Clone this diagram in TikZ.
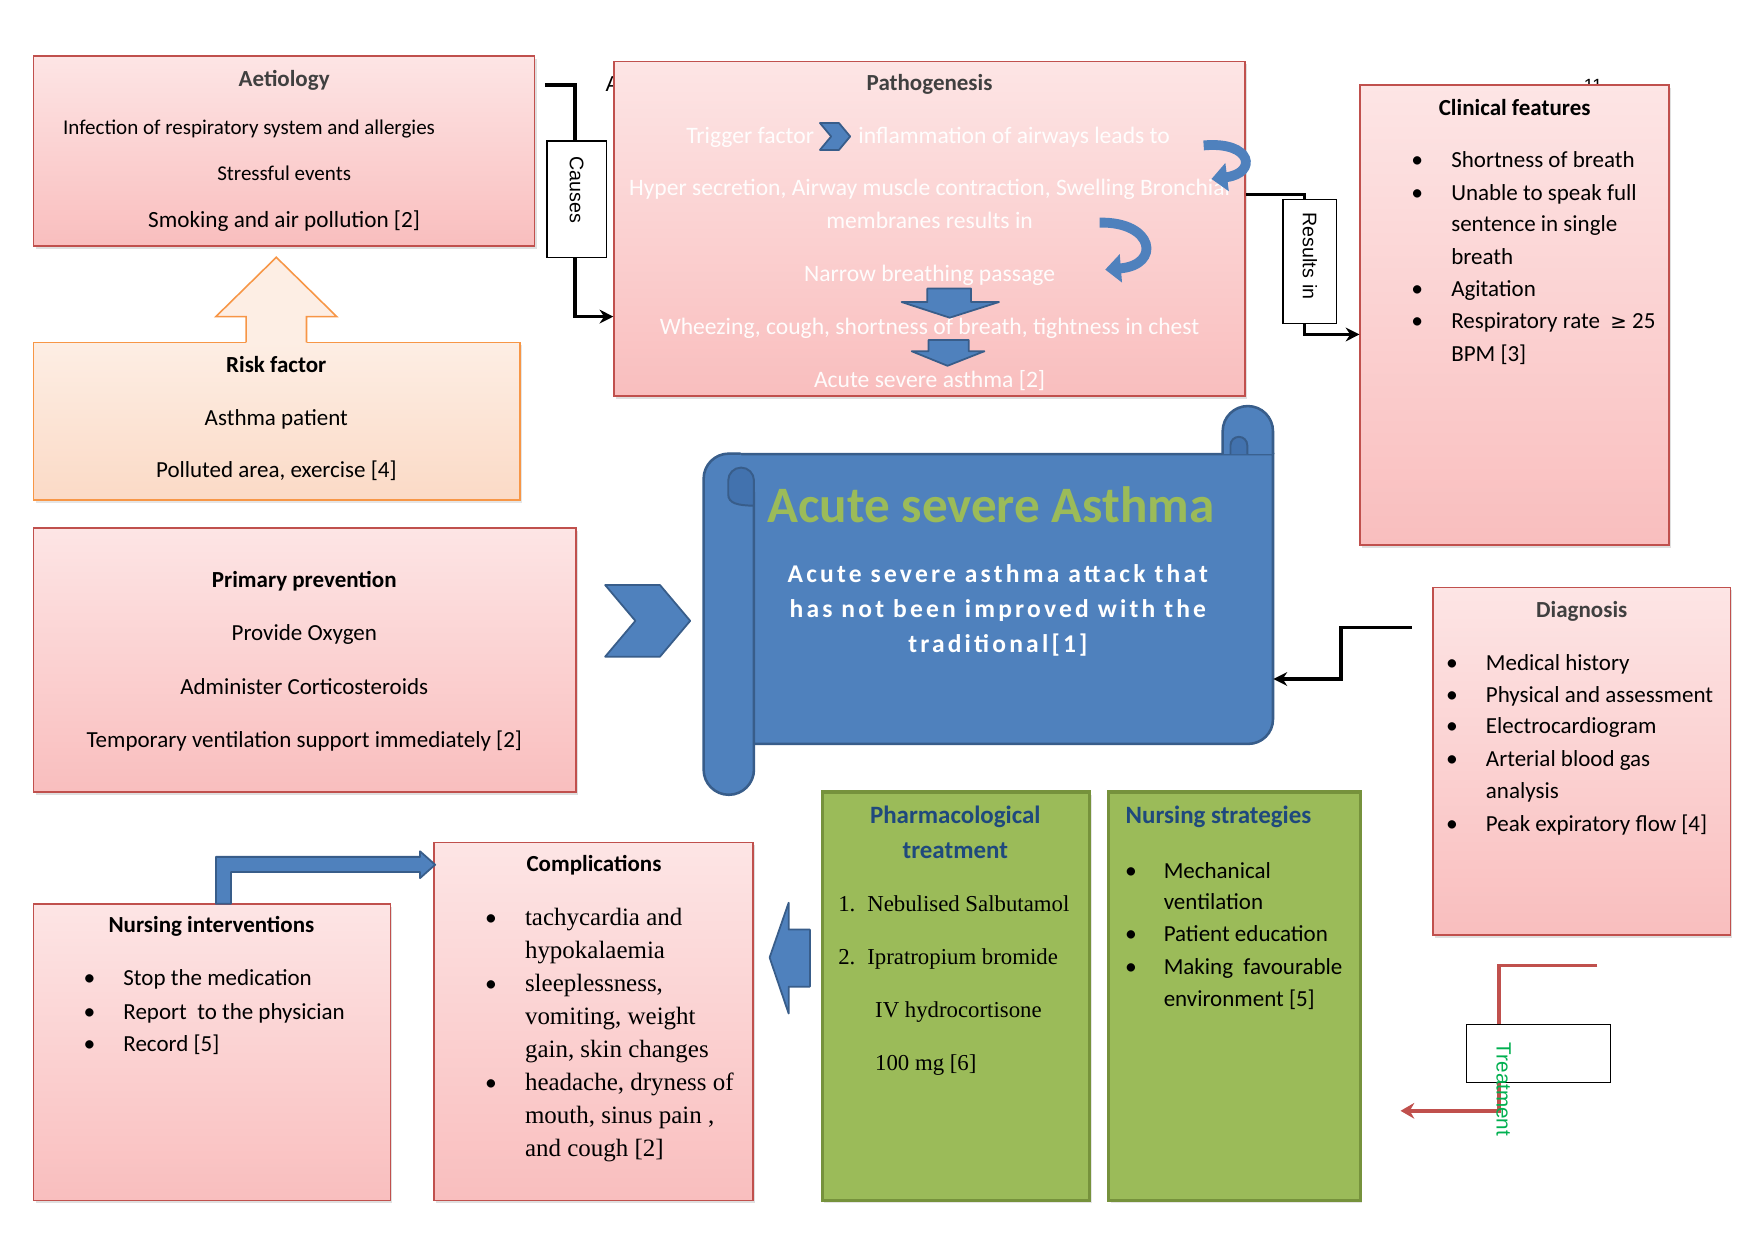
\documentclass[tikz,border=0pt]{standalone}
\usepackage{fontspec}
\setmainfont{Carlito}
\newfontfamily\timesfont{Liberation Serif}
\newfontfamily\arialfont{Liberation Sans}
\newfontfamily\symfont{DejaVu Sans}
\newfontfamily\trackfont[LetterSpace=12.5]{Carlito}
\newcommand{\gesym}{{\symfont\fontsize{10}{10}\selectfont ≥}}
\usetikzlibrary{arrows.meta, positioning, fit, shadows, calc}

\definecolor{boxred}{HTML}{C0504D}
\definecolor{pinktop}{HTML}{FDE5E5}
\definecolor{pinkbot}{HTML}{F9BEBE}
\definecolor{orngline}{HTML}{F79646}
\definecolor{peachtop}{HTML}{FDEEE4}
\definecolor{peachbot}{HTML}{FBDAC6}
\definecolor{accblue}{HTML}{4F81BD}
\definecolor{darkblue}{HTML}{385D8A}
\definecolor{rollblue}{HTML}{4272AE}
\definecolor{accgreen}{HTML}{9BBB59}
\definecolor{darkgreen}{HTML}{76923C}
\definecolor{titleblue}{HTML}{1F497D}
\definecolor{treatgreen}{HTML}{00B050}
\definecolor{greytitle}{HTML}{404040}

\tikzset{
  pinkbox/.style={draw=boxred, line width=0.8pt, top color=pinktop, bottom color=pinkbot,
                  inner sep=0pt, drop shadow={opacity=0.25, shadow xshift=1pt, shadow yshift=-1.5pt}},
  peachbox/.style={draw=orngline, line width=0.8pt, top color=peachtop, bottom color=peachbot,
                   inner sep=0pt, drop shadow={opacity=0.2, shadow xshift=1pt, shadow yshift=-1.5pt}},
  greenbox/.style={draw=darkgreen, line width=1.6pt, fill=accgreen,
                   inner sep=0pt, drop shadow={opacity=0.2, shadow xshift=1pt, shadow yshift=-1.5pt}},
  lblbox/.style={draw=black, fill=white, line width=0.6pt, rotate=-90, align=left, inner ysep=0pt,
                 font=\arialfont\fontsize{10}{12}\selectfont},
  hd/.style={font=\bfseries\fontsize{#1}{#1}\selectfont, anchor=mid, inner sep=0pt, yshift=-1.6pt}, hd/.default=11.7,
  tx/.style={font=\fontsize{#1}{#1}\selectfont, anchor=mid, inner sep=0pt, yshift=-1.6pt}, tx/.default=11.7,
  it/.style={font=\fontsize{#1}{#1}\selectfont, anchor=mid west, inner sep=0pt, yshift=-1.6pt}, it/.default=11.7,
  sit/.style={font=\timesfont\fontsize{#1}{#1}\selectfont, anchor=mid west, inner sep=0pt, yshift=-1.6pt}, sit/.default=11.6,
  bul/.style={font=\fontsize{12}{12}\selectfont, anchor=mid, inner sep=0pt, yshift=-1.6pt},
  ptx/.style={tx=12, text=white, text opacity=0.95},
  stray/.style={font=\arialfont\fontsize{#1}{#1}\selectfont, inner sep=0pt}, stray/.default=11,
  blkline/.style={draw=black, line width=1.8pt},
  blkconn/.style={blkline, -{Stealth[length=7pt, width=7pt]}},
  redconn/.style={draw=boxred, line width=1.8pt, -{Stealth[length=7pt, width=8pt]}},
  blockar/.style={fill=accblue, draw=darkblue, line width=0.9pt, line join=round},
  curvar/.style={draw=accblue, line width=5pt, -{Triangle[length=8pt, width=14pt]}},
  scroll/.style={fill=accblue, draw=darkblue, line width=1.3pt},
  scrolldk/.style={fill=rollblue, draw=darkblue, line width=1pt},
}

\begin{document}
\begin{tikzpicture}[x=0.02cm, y=-0.02cm]
  %% page
  \fill[white] (0,0) rectangle (1568,1109);
  \useasboundingbox (0,0) rectangle (1568,1109);

  %% Aetiology
  \node[pinkbox, fit={(30,50) (478,220)}] (aet) {};
  \node[hd, text=greytitle] (aetT) at (254,70) {Aetiology};
  \node[it=10.7] (aet1) at (56,113) {Infection of respiratory system and allergies};
  \node[tx=10.7] (aet2) at (254,154) {Stressful events};
  \node[tx=11.8] (aet3) at (254,196) {Smoking and air pollution [2]};

  %% Risk factor with up arrow
  \node[peachbox, fit={(30,306) (465,447)}] (risk) {};
  \fill[peachtop] (220,307.5) -- (220,283) -- (193,283) -- (247,230) -- (301,283) -- (274,283) -- (274,307.5) -- cycle;
  \draw[orngline, line width=0.8pt] (220,306) -- (220,283) -- (193,283) -- (247,230) -- (301,283) -- (274,283) -- (274,306);
  \node[hd] (riskT) at (247,326) {Risk factor};
  \node[tx] (risk1) at (247,373) {Asthma patient};
  \node[tx] (risk2) at (247,420) {Polluted area, exercise [4]};

  %% Pathogenesis
  \node[stray, anchor=mid west] (strayA) at (541,78) {A};
  \node[pinkbox, fit={(549,55) (1113,354)}] (path) {};
  \node[hd, text=greytitle] (pathT) at (831,74) {Pathogenesis};
  \node[ptx, anchor=mid east] (pth1a) at (728,121) {Trigger factor};
  \filldraw[blockar] (733,110) -- (750,110) -- (760,122) -- (750,134) -- (733,134) -- (743,122) -- cycle;
  \node[ptx, anchor=mid west] (pth1b) at (767,121) {inflammation of airways leads to};
  \node[ptx] (pth2) at (831,168) {Hyper secretion, Airway muscle contraction, Swelling Bronchial};
  \node[ptx] (pth3) at (831,197) {membranes results in};
  \node[ptx] (pth4) at (831,245) {Narrow breathing passage};
  \node[ptx] (pth5) at (831,292) {Wheezing, cough, shortness of breath, tightness in chest};
  \node[ptx] (pth6) at (831,339) {Acute severe asthma [2]};
  \coordinate (c1s) at (1076,130);
  \coordinate (c1e) at (1083,160);
  \draw[curvar] (c1s) .. controls (1120,126) and (1124,155) .. (c1e);
  \coordinate (c2s) at (983,199);
  \coordinate (c2e) at (988,241);
  \draw[curvar] (c2s) .. controls (1032,198) and (1038,237) .. (c2e);
  \filldraw[blockar] (829,258) -- (868,258) -- (868,270) -- (893,270) -- (849,284) -- (806,270) -- (829,270) -- cycle;
  \filldraw[blockar] (830,304) -- (866,304) -- (866,314) -- (880,314) -- (847,327) -- (815,314) -- (830,314) -- cycle;

  %% Clinical features
  \node[stray=9, anchor=north] (stray11) at (1424,71) {11};
  \node[pinkbox, fit={(1216,76) (1492,487)}] (clin) {};
  \node[hd] (clinT) at (1354,96) {Clinical features};
  \foreach \y/\t [count=\i] in {143/Shortness of breath, 172/Unable to speak full,
      200/sentence in single, 229/breath, 258/Agitation,
      287/{Respiratory rate \ \gesym\ 25}, 316/{BPM [3]}}
    \node[it] (clin\i) at (1297,\y) {\t};
  \foreach \y in {143,172,258,287}
    \node[bul] (clinb\y) at (1267,\y) {•};

  %% Central scroll
  \node[fit={(629,363) (1138,710)}, inner sep=0pt] (asa) {};
  \filldraw[scroll] (652,406) -- (1138,406) -- (1138,643) arc[start angle=0, end angle=90, radius=22] -- (652,665) -- cycle;
  \filldraw[scroll] (1093,406) -- (1093,385.5) arc[start angle=180, end angle=360, radius=22.5] -- (1138,406);
  \filldraw[scrolldk] (1100,406) -- (1100,398) arc[start angle=180, end angle=360, radius=7.5] -- (1115,406);
  \filldraw[scroll] (674,440) -- (674,688) arc[start angle=0, end angle=180, radius=22.5] -- (629,428)
      arc[start angle=180, end angle=270, radius=22.5] -- (662,405.5);
  \filldraw[scrolldk] (674,452) -- (674,429.5) arc[start angle=0, end angle=-180, radius=11.5]
      -- (651,442) .. controls (651,450) and (660,452) .. (674,452);
  \node[font=\bfseries\fontsize{26}{26}\selectfont, text=accgreen, anchor=mid, inner sep=0pt, yshift=-1.6pt] (asaT) at (886,460) {Acute severe Asthma};
  \foreach \y/\t [count=\i] in {514/Acute severe asthma attack that, 545/has not been improved with the, 576/traditional[1]}
    \node[font=\trackfont\bfseries\fontsize{13}{13}\selectfont, text=white, anchor=mid, inner sep=0pt, yshift=-1.6pt] (asa\i) at (892,\y) {\t};

  %% Primary prevention
  \node[pinkbox, fit={(30,472) (515,708)}] (prev) {};
  \node[hd] (prevT) at (272,518) {Primary prevention};
  \node[tx] (prev1) at (272,566) {Provide Oxygen};
  \node[tx] (prev2) at (272,614) {Administer Corticosteroids};
  \node[tx] (prev3) at (272,661) {Temporary ventilation support immediately [2]};
  \filldraw[blockar] (541,523) -- (590,523) -- (617,555) -- (590,587) -- (541,587) -- (568,555) -- cycle;

  %% Diagnosis
  \node[pinkbox, fit={(1281,525) (1547,836)}] (diag) {};
  \node[hd, text=greytitle] (diagT) at (1414,545) {Diagnosis};
  \foreach \y/\t [count=\i] in {592/Medical history, 621/Physical and assessment, 649/Electrocardiogram,
      678/Arterial blood gas, 707/analysis, 736/{Peak expiratory flow [4]}}
    \node[it] (diag\i) at (1328,\y) {\t};
  \foreach \y in {592,621,649,678,736}
    \node[bul] (diagb\y) at (1298,\y) {•};

  %% Pharmacological treatment
  \node[greenbox, fit={(735,708) (974,1073)}] (pharm) {};
  \node[hd=12.7, text=titleblue] (pharmT1) at (854,729) {Pharmacological};
  \node[hd=12.7, text=titleblue] (pharmT2) at (854,760) {treatment};
  \node[sit] (ph1n) at (749,808) {1.};
  \node[sit] (ph1) at (775,808) {Nebulised Salbutamol};
  \node[sit] (ph2n) at (749,855) {2.};
  \node[sit] (ph2) at (775,855) {Ipratropium bromide};
  \node[sit] (ph3) at (782,903) {IV hydrocortisone};
  \node[sit] (ph4) at (782,950) {100 mg [6]};

  %% Nursing strategies
  \node[greenbox, fit={(991,708) (1216,1073)}] (nstr) {};
  \node[hd=12.7, text=titleblue, anchor=mid west] (nstrT) at (1006,729) {Nursing strategies};
  \foreach \y/\t [count=\i] in {778/Mechanical, 806/ventilation, 835/Patient education,
      864/{Making \ favourable}, 893/{environment [5]}}
    \node[it] (nstr\i) at (1040,\y) {\t};
  \foreach \y in {778,835,864}
    \node[bul] (nstrb\y) at (1011,\y) {•};

  %% Complications
  \node[pinkbox, fit={(388,753) (673,1073)}] (comp) {};
  \node[hd] (compT) at (531,772) {Complications};
  \foreach \y/\t [count=\i] in {820/tachycardia and, 850/hypokalaemia, 879/{sleeplessness,},
      909/{vomiting, weight}, 938/{gain, skin changes}, 968/{headache, dryness of},
      997/{mouth, sinus pain ,}, 1027/{and cough [2]}}
    \node[sit=12.7] (comp\i) at (469,\y) {\t};
  \foreach \y in {820,879,968}
    \node[bul] (compb\y) at (439,\y) {•};
  \filldraw[blockar] (688,856) -- (705,807) -- (705,831) -- (724,831) -- (724,882) -- (705,882) -- (705,906) -- cycle;

  %% Nursing interventions
  \node[pinkbox, fit={(30,808) (349,1073)}] (nint) {};
  \node[hd] (nintT) at (189,827) {Nursing interventions};
  \foreach \y/\t [count=\i] in {874/Stop the medication, 904/{Report \ to the physician}, 933/{Record [5]}}
    \node[it] (nint\i) at (110,\y) {\t};
  \foreach \y in {874,904,933}
    \node[bul] (nintb\y) at (80,\y) {•};
  \filldraw[blockar] (193,808) -- (193,766) -- (375.5,766) -- (375.5,761) -- (389,773) -- (375.5,785)
      -- (375.5,779.5) -- (206.5,779.5) -- (206.5,808) -- cycle;

  %% connectors
  \coordinate (csA) at (487,76);
  \draw[blkline] (csA) -| (514,126);
  \draw[blkconn] (514,229) |- (path.west |- 0,283);
  \node[lblbox, minimum height=1.06cm, text width=1.52cm, inner xsep=0.28cm] (causes) at (515.5,178) {Causes};

  \draw[blkline] (path.east |- 0,174) -| (1166,178);
  \draw[blkconn] (1166,289) |- (clin.west |- 0,299);
  \node[lblbox, minimum height=0.96cm, text width=1.74cm, inner xsep=0.24cm] (resin) at (1171,233.5) {Results in};

  \coordinate (dgA) at (1262,561);
  \draw[blkconn] (dgA) -- ++(-63,0) |- (asa.east |- 0,607);

  \coordinate (trA) at (1428,863);
  \coordinate (trB) at (1252,993);
  \draw[redconn] (trA) -| (1340,993) -- (trB);
  \node[draw=black, fill=white, line width=0.6pt, fit={(1311,916) (1440,968)}, inner sep=0pt] (treatbox) {};
  \node[font=\arialfont\fontsize{10.5}{10.5}\selectfont, text=treatgreen, rotate=-90, anchor=mid, inner sep=0pt] (treattxt) at (1342,974) {Treatment};
\end{tikzpicture}
\end{document}
